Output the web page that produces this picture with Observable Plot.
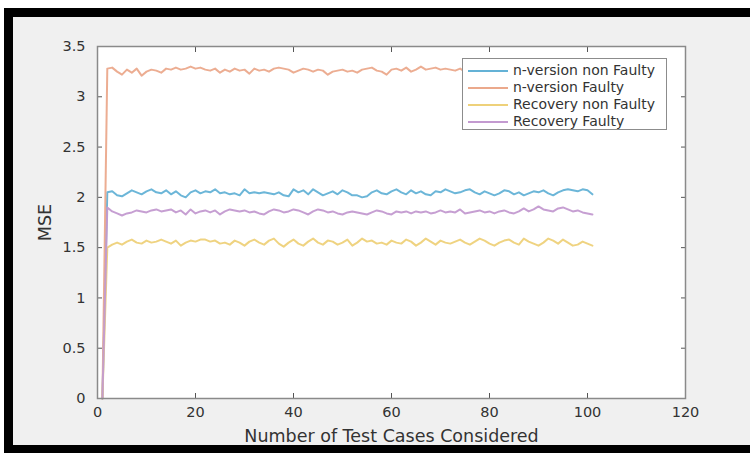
<!DOCTYPE html>
<html><head><meta charset="utf-8">
<script src="https://cdn.jsdelivr.net/npm/d3@7"></script>
<script src="https://cdn.jsdelivr.net/npm/@observablehq/plot@0.6"></script>
<style>
html,body{margin:0;padding:0;background:#fff;}
#page{position:relative;width:750px;height:453px;overflow:hidden;background:#fff;font-family:"DejaVu Sans",sans-serif;}
#border{position:absolute;left:4px;top:8px;width:746px;height:445px;background:#000;}
#panel{position:absolute;left:13px;top:17px;width:737px;height:428px;background:#f0f0f0;}
#chart{position:absolute;left:0;top:0;}
#legend{position:absolute;left:462px;top:58px;width:203px;height:70px;background:#fff;border:1px solid #8c8c8c;box-sizing:content-box;}
#legend .row{position:absolute;left:0;height:17px;width:100%;}
#legend .sw{position:absolute;left:5px;top:8px;width:40px;height:2px;}
#legend .lab{position:absolute;left:50px;top:0;line-height:17px;font-size:14px;color:#333;white-space:nowrap;}
</style></head>
<body>
<div id="page"><div id="border"></div><div id="panel"></div><div id="chart"></div><div id="legend"></div></div>
<script>
const seriesNames = ["n-version non Faulty","n-version Faulty","Recovery non Faulty","Recovery Faulty"];
const seriesColors = ["#64b2d6","#eba98c","#eed17a","#c39ad0"];
const xTicks = [0,20,40,60,80,100,120];
const yTicks = [0,0.5,1,1.5,2,2.5,3,3.5];
const yTickLabels = ["0","0.5","1","1.5","2","2.5","3","3.5"];
// test case index 1..101
const testCases = Array.from({length:101},(_,i)=>i+1);

const nVersionNonFaulty = [0,
 2.05,2.06,2.02,2.01,2.04,2.07,2.05,2.03,2.06,2.08,
 2.05,2.04,2.07,2.03,2.06,2.02,2.00,2.05,2.07,2.04,
 2.06,2.05,2.08,2.04,2.05,2.03,2.04,2.02,2.08,2.04,
 2.05,2.04,2.05,2.04,2.03,2.05,2.02,2.01,2.08,2.05,
 2.07,2.03,2.08,2.05,2.02,2.04,2.06,2.03,2.07,2.05,
 2.02,2.02,2.00,2.01,2.05,2.07,2.04,2.03,2.06,2.08,
 2.05,2.03,2.07,2.04,2.06,2.03,2.02,2.06,2.05,2.08,
 2.06,2.04,2.05,2.07,2.08,2.05,2.03,2.06,2.04,2.02,
 2.04,2.07,2.06,2.03,2.05,2.02,2.04,2.06,2.05,2.07,
 2.04,2.02,2.05,2.07,2.08,2.07,2.06,2.08,2.07,2.03];
const nVersionFaulty = [0,
 3.28,3.29,3.25,3.22,3.27,3.24,3.28,3.21,3.25,3.27,
 3.26,3.24,3.28,3.27,3.29,3.27,3.28,3.30,3.28,3.29,
 3.27,3.26,3.28,3.24,3.27,3.25,3.28,3.26,3.27,3.23,
 3.28,3.26,3.27,3.25,3.28,3.29,3.28,3.27,3.24,3.26,
 3.28,3.27,3.25,3.27,3.26,3.22,3.25,3.26,3.27,3.25,
 3.26,3.24,3.27,3.28,3.29,3.26,3.25,3.22,3.27,3.28,
 3.26,3.29,3.25,3.27,3.30,3.27,3.28,3.29,3.27,3.28,
 3.27,3.26,3.28,3.25,3.24,3.27,3.28,3.26,3.29,3.26,
 3.24,3.27,3.28,3.26,3.25,3.27,3.26,3.28,3.27,3.25,
 3.26,3.28,3.27,3.26,3.28,3.27,3.26,3.25,3.27,3.26];
const recoveryNonFaulty = [0,
 1.50,1.53,1.55,1.53,1.56,1.58,1.55,1.54,1.57,1.55,
 1.56,1.58,1.56,1.54,1.57,1.52,1.55,1.57,1.56,1.58,
 1.58,1.56,1.57,1.54,1.55,1.53,1.57,1.55,1.52,1.56,
 1.58,1.55,1.53,1.57,1.59,1.54,1.51,1.55,1.58,1.54,
 1.52,1.56,1.59,1.55,1.53,1.57,1.56,1.53,1.55,1.58,
 1.52,1.55,1.59,1.56,1.57,1.54,1.55,1.53,1.57,1.55,
 1.54,1.58,1.56,1.52,1.55,1.59,1.56,1.53,1.57,1.55,
 1.54,1.56,1.58,1.55,1.53,1.56,1.59,1.57,1.54,1.52,
 1.55,1.57,1.58,1.55,1.53,1.59,1.56,1.54,1.52,1.55,
 1.59,1.57,1.54,1.58,1.55,1.52,1.53,1.56,1.54,1.52];
const recoveryFaulty = [0,
 1.90,1.86,1.84,1.82,1.84,1.85,1.87,1.86,1.85,1.87,
 1.88,1.86,1.87,1.88,1.85,1.87,1.83,1.88,1.84,1.86,
 1.87,1.85,1.87,1.83,1.86,1.88,1.87,1.86,1.87,1.85,
 1.86,1.84,1.83,1.86,1.88,1.87,1.85,1.86,1.88,1.87,
 1.85,1.83,1.86,1.88,1.87,1.85,1.86,1.84,1.83,1.85,
 1.86,1.85,1.84,1.83,1.85,1.87,1.86,1.84,1.83,1.86,
 1.85,1.86,1.84,1.86,1.85,1.86,1.84,1.85,1.87,1.85,
 1.86,1.85,1.88,1.84,1.85,1.86,1.87,1.85,1.86,1.84,
 1.86,1.87,1.85,1.84,1.86,1.89,1.86,1.88,1.91,1.88,
 1.87,1.86,1.89,1.90,1.88,1.86,1.87,1.85,1.84,1.83];

const seriesValues = [nVersionNonFaulty, nVersionFaulty, recoveryNonFaulty, recoveryFaulty];
const rows = [];
seriesValues.forEach((vals, si) => vals.forEach((v, i) => rows.push({x: testCases[i], y: v, series: seriesNames[si]})));

const chart = Plot.plot({
  width: 750, height: 453,
  marginLeft: 97, marginRight: 65, marginTop: 46, marginBottom: 55,
  style: {background: "transparent", fontFamily: "DejaVu Sans", color: "#333", overflow: "visible"},
  x: {domain: [0, 120]},
  y: {domain: [0, 3.5]},
  color: {domain: seriesNames, range: seriesColors},
  marks: [
    Plot.frame({fill: "white", stroke: null}),
    Plot.lineY(rows, {x: "x", y: "y", stroke: "series", strokeWidth: 2, strokeOpacity: 0.95, curve: "linear"}),
    Plot.axisX({anchor: "bottom", ticks: xTicks, tickSize: -5, tickPadding: 13, stroke: "#555", fontSize: 14.5, label: "Number of Test Cases Considered", labelAnchor: "center", labelArrow: "none", labelOffset: 43}),
    Plot.axisX({anchor: "top", ticks: xTicks, tickSize: -5, tickFormat: () => "", stroke: "#555", label: null}),
    Plot.axisY({anchor: "left", ticks: yTicks, tickFormat: (d) => yTickLabels[yTicks.indexOf(d)], tickSize: -5, tickPadding: 17, stroke: "#555", fontSize: 14.5, label: "MSE", labelAnchor: "center", labelArrow: "none", labelOffset: 59}),
    Plot.axisY({anchor: "right", ticks: yTicks, tickSize: -5, tickFormat: () => "", stroke: "#555", label: null}),
    Plot.frame({stroke: "#8a8a8a", strokeWidth: 1.5})
  ]
});
chart.querySelectorAll("text").forEach(t => { t.style.fontFamily = "DejaVu Sans"; });
chart.querySelectorAll("[aria-label$='axis label']").forEach(g => g.setAttribute("font-size", "17.5"));
document.getElementById("chart").appendChild(chart);

const legend = document.getElementById("legend");
seriesNames.forEach((name, i) => {
  const row = document.createElement("div");
  row.className = "row";
  row.style.top = (3 + i * 17) + "px";
  const sw = document.createElement("div");
  sw.className = "sw"; sw.style.background = seriesColors[i];
  const lab = document.createElement("div");
  lab.className = "lab"; lab.textContent = name;
  row.appendChild(sw); row.appendChild(lab);
  legend.appendChild(row);
});
</script>
</body></html>
